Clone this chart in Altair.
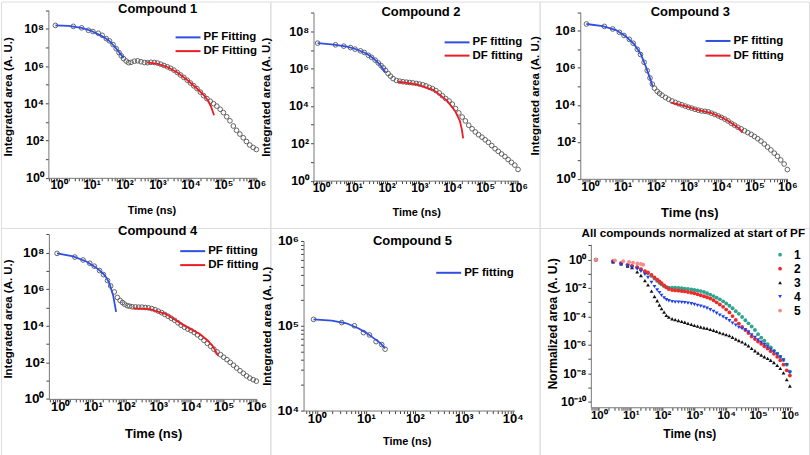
import json
import altair as alt
import pandas as pd

FONT = "Liberation Sans"
BLUE = "#2f4fe0"
RED = "#ec1c24"
CIRCLE = "#555555"

# ---------------- data ----------------
# measurement times (ns) of the markers (panels 1-4 and 6)
t_ns = [0.8, 2.8, 5, 8, 11, 16, 21, 28, 35, 45, 56, 68, 80, 93, 112, 132, 158,
        200, 250, 316, 400, 500, 630, 800,
        1000, 1260, 1580, 2000, 2500, 3160, 4000, 5000, 6300, 8000,
        1e4, 1.26e4, 1.58e4, 2e4, 2.5e4, 3.16e4, 4e4, 5e4, 6.3e4, 8e4,
        1e5, 1.26e5, 1.58e5, 2e5, 2.5e5, 3.16e5, 4e5, 5e5, 6.3e5, 8e5, 1e6]

# log10 of integrated area (A. U.)
c1_log_area = [8.18, 8.13, 8.05, 7.92, 7.85, 7.76, 7.65, 7.47, 7.35, 7.15, 6.93, 6.72, 6.55, 6.40, 6.27, 6.18, 6.20,
               6.26, 6.28, 6.23, 6.19, 6.18, 6.20, 6.19,
               6.16, 6.10, 6.03, 5.96, 5.88, 5.78, 5.65, 5.52, 5.39, 5.24,
               5.09, 4.94, 4.79, 4.60, 4.41, 4.25, 4.11, 3.98, 3.85, 3.68,
               3.50, 3.28, 3.06, 2.78, 2.55, 2.35, 2.15, 1.95, 1.76, 1.63,
               1.52]
c2_log_area = [7.37, 7.28, 7.21, 7.13, 7.05, 6.96, 6.87, 6.72, 6.61, 6.46, 6.31, 6.17, 6.04, 5.91, 5.74, 5.60, 5.47,
               5.37, 5.33, 5.30, 5.28, 5.26, 5.24, 5.21,
               5.18, 5.14, 5.08, 5.00, 4.93, 4.83, 4.70, 4.55, 4.40, 4.27,
               4.10, 3.86, 3.63, 3.41, 3.20, 2.97, 2.78, 2.61, 2.46, 2.33,
               2.19, 2.05, 1.88, 1.71, 1.57, 1.43, 1.29, 1.13, 0.98, 0.83,
               0.60]
c3_log_area = [8.37, 8.24, 8.10, 7.92, 7.75, 7.54, 7.33, 7.00, 6.72, 6.30, 5.85, 5.45, 5.12, 4.90, 4.73, 4.62, 4.52,
               4.40, 4.30, 4.21, 4.13, 4.06, 4.00, 3.93,
               3.87, 3.82, 3.76, 3.71, 3.67, 3.65, 3.62, 3.55, 3.48, 3.40,
               3.32, 3.23, 3.13, 3.00, 2.90, 2.79, 2.70, 2.60, 2.50, 2.40,
               2.29, 2.17, 2.04, 1.88, 1.72, 1.56, 1.39, 1.22, 1.02, 0.80,
               0.50]
c4_log_area = [7.96, 7.76, 7.60, 7.42, 7.26, 7.02, 6.80, 6.47, 6.18, 5.85, 5.55, 5.38, 5.27, 5.18, 5.10, 5.07, 5.04,
               5.03, 5.02, 5.02, 5.00, 4.98, 4.94, 4.88,
               4.80, 4.72, 4.62, 4.52, 4.41, 4.30, 4.16, 4.03, 3.92, 3.82,
               3.74, 3.63, 3.50, 3.36, 3.20, 3.04, 2.88, 2.72, 2.57, 2.42,
               2.28, 2.15, 2.00, 1.84, 1.69, 1.54, 1.40, 1.26, 1.14, 1.05,
               0.97]

# fits: times (ns) and log10 area
pf1_t = [0.8, 2, 5, 10, 20, 32, 50, 70, 93]
pf1_log = [8.18, 8.15, 8.05, 7.88, 7.62, 7.40, 7.05, 6.72, 6.43]
df1_t = [480, 1000, 2000, 4000, 8000, 16000, 25000, 35000, 43000, 52000]
df1_log = [6.20, 6.12, 5.95, 5.65, 5.25, 4.78, 4.45, 4.12, 3.78, 3.36]

pf2_t = [0.8, 2.5, 6.3, 12.6, 25, 40, 63, 93]
pf2_log = [7.37, 7.29, 7.18, 7.03, 6.80, 6.55, 6.22, 5.79]
df2_t = [224, 830, 2700, 6800, 12000, 17000, 19500, 21400]
df2_log = [5.30, 5.16, 4.85, 4.30, 3.75, 3.20, 2.75, 2.27]

pf3_t = [0.8, 2.5, 6.3, 12.6, 22.4, 35.5, 50, 66, 83]
pf3_log = [8.37, 8.26, 8.04, 7.70, 7.28, 6.75, 6.10, 5.50, 4.98]
df3_t = [295, 800, 2000, 5000, 10000, 16000, 25000, 35500, 43600]
df3_log = [4.12, 3.93, 3.72, 3.55, 3.33, 3.13, 2.90, 2.70, 2.50]

pf4_t = [0.8, 2.5, 6.3, 12.6, 20, 26.3, 33, 41.7, 51.3]
pf4_log = [7.96, 7.80, 7.52, 7.18, 6.88, 6.62, 6.25, 5.65, 4.76]
df4_t = [166, 540, 1740, 5750, 18600, 33000, 46800, 67600]
df4_log = [4.95, 4.91, 4.64, 4.05, 3.55, 3.18, 2.87, 2.36]

# compound 5
c5_t = [0.85, 3.2, 5.8, 8.9, 11.8, 16.1, 21, 24.6]
c5_area = [1.19e5, 1.09e5, 1.0e5, 8.3e4, 7.8e4, 6.5e4, 6.0e4, 5.3e4]
pf5_t = [0.85, 2, 4, 7.1, 10, 14.1, 20, 24.6]
pf5_area = [1.19e5, 1.15e5, 1.07e5, 9.3e4, 8.3e4, 7.2e4, 6.2e4, 5.4e4]

# panel 6: log10 of normalized area
n1_log = [0.0, -0.13, -0.26, -0.38, -0.46, -0.56, -0.70, -0.86, -0.97, -1.15, -1.34, -1.50, -1.63, -1.75, -1.87, -1.95, -1.98,
          -1.97, -1.98, -2.00, -2.02, -2.05, -2.07, -2.10,
          -2.14, -2.18, -2.22, -2.28, -2.37, -2.47, -2.57, -2.68, -2.80, -2.94,
          -3.09, -3.25, -3.43, -3.63, -3.82, -4.04, -4.27, -4.49, -4.71, -4.96,
          -5.25, -5.50, -5.72, -5.95, -6.18, -6.41, -6.63, -6.86, -7.08, -7.40,
          -7.90]
n2_log = [0.0, -0.12, -0.25, -0.37, -0.45, -0.54, -0.67, -0.82, -0.91, -1.08, -1.26, -1.41, -1.54, -1.66, -1.82, -1.96, -2.07,
          -2.14, -2.17, -2.19, -2.21, -2.24, -2.28, -2.33,
          -2.37, -2.44, -2.51, -2.58, -2.65, -2.74, -2.86, -3.01, -3.16, -3.33,
          -3.52, -3.72, -3.98, -4.25, -4.51, -4.74, -4.96, -5.17, -5.41, -5.60,
          -5.77, -5.93, -6.10, -6.27, -6.45, -6.64, -6.85, -7.09, -7.40, -7.80,
          -8.17]
n3_log = [0.0, -0.16, -0.30, -0.45, -0.57, -0.87, -1.12, -1.48, -1.78, -2.22, -2.60, -2.90, -3.20, -3.45, -3.70, -3.93, -4.05,
          -4.17, -4.23, -4.29, -4.35, -4.41, -4.49, -4.56,
          -4.63, -4.69, -4.75, -4.80, -4.85, -4.91, -4.98, -5.06, -5.14, -5.21,
          -5.28, -5.36, -5.47, -5.59, -5.70, -5.80, -5.93, -6.07, -6.25, -6.42,
          -6.58, -6.72, -6.84, -6.96, -7.09, -7.25, -7.45, -7.66, -7.98, -8.45,
          -8.90]
n4_log = [0.0, -0.18, -0.35, -0.45, -0.55, -0.65, -0.82, -1.04, -1.26, -1.60, -1.90, -2.14, -2.33, -2.52, -2.70, -2.83, -2.90,
          -2.96, -3.00, -3.00, -3.01, -3.03, -3.07, -3.11,
          -3.16, -3.22, -3.28, -3.35, -3.43, -3.53, -3.65, -3.78, -3.91, -4.04,
          -4.17, -4.31, -4.47, -4.62, -4.77, -4.86, -4.95, -5.10, -5.30, -5.48,
          -5.65, -5.81, -5.98, -6.15, -6.33, -6.50, -6.67, -6.85, -7.07, -7.40,
          -7.94]
n5_t = [0.8, 3.2, 5.8, 8.9, 11.8, 16.1, 21, 24.6]
n5_log = [0.0, -0.06, -0.11, -0.17, -0.21, -0.27, -0.31, -0.36]

compound_names = ["1", "2", "3", "4", "5"]
compound_colors = ["#2ca58d", "#ee2a2a", "#111111", "#1f3ef0", "#f48a8a"]
compound_shapes = ["circle", "circle", "triangle-up", "triangle-down", "circle"]

# ---------------- helpers ----------------
SUP = {"0": "\u2070", "1": "\u00b9", "2": "\u00b2", "3": "\u00b3", "4": "\u2074",
       "5": "\u2075", "6": "\u2076", "7": "\u2077", "8": "\u2078", "9": "\u2079", "-": "\u207b"}


def pow_label(k):
    return "10" + "".join(SUP[c] for c in str(k))


def log_ticks(k0, k1, lo, hi, minor=True):
    out = []
    for k in range(k0, k1 + 1):
        for m in (range(1, 10) if minor else [1]):
            v = float(f"{m}e{k}")
            if lo * 0.999 <= v <= hi * 1.001:
                out.append(v)
    return out


def label_expr(exps):
    vals = [float(f"1e{k}") for k in exps]
    labs = [pow_label(k) for k in exps]
    arr = json.dumps(vals)
    return (f"indexof({arr}, datum.value) >= 0 ? "
            f"{json.dumps(labs)}[indexof({arr}, datum.value)] : ''")


def build_panel(p, H):
    xs = alt.Scale(type="log", domain=p["xdom"], range=p["xrange"], nice=False)
    ys = alt.Scale(type="log", domain=p["ydom"], range=p["yrange"], nice=False)
    xa = alt.Axis(values=p["xticks"], labelExpr=label_expr(p["xlab"]),
                  title="Time (ns)", titleFont=FONT, titleFontSize=p["xtfs"], titleFontWeight="bold",
                  titleColor="black", titleX=p["xtitle"][0], titleY=p["xtitle"][1] - p["yrange"][0],
                  titleBaseline="middle", titleAlign="center",
                  offset=-(H - p["yrange"][0]),
                  labelFont=FONT, labelFontSize=p["lfs"], labelFontWeight="bold", labelColor="black",
                  labelPadding=-1, labelOverlap=False, labelFlush=False,
                  tickSize=3, tickColor="#444444", domainColor="#777777", grid=False)
    ya = alt.Axis(values=p["yticks"], labelExpr=label_expr(p["ylab"]),
                  title=p["ytitle_text"], titleFont=FONT, titleFontSize=p["ytfs"], titleFontWeight="bold",
                  titleColor="black", titleX=p["ytitle"][0] - p["xrange"][0], titleY=p["ytitle"][1],
                  titleBaseline="middle", titleAlign="center", titleAngle=270,
                  offset=-p["xrange"][0],
                  labelFont=FONT, labelFontSize=p["lfs"] + 0.5, labelFontWeight="bold", labelColor="black",
                  labelPadding=2, labelOverlap=False, labelFlush=False,
                  tickSize=3, tickColor="#444444", domainColor="#777777", grid=False)
    X = alt.X("t:Q", scale=xs, axis=xa)
    Y = alt.Y("v:Q", scale=ys, axis=ya)
    layers = [lay(X, Y) for lay in p["layers"]]
    ttl = alt.TitleParams(text=p["title"], font=FONT, fontSize=p["tfs"], fontWeight="bold",
                          color="black", anchor="middle", frame="group", baseline="middle",
                          dx=p["tpos"][0] - 135, offset=-(p["tpos"][1] + p["tfs"]))
    return alt.layer(*layers).properties(width=270, height=H, title=ttl)


def circles_layer(t, logv):
    df = pd.DataFrame({"t": t, "v": [10 ** x for x in logv]})

    def f(X, Y):
        return alt.Chart(df).mark_point(shape="circle", filled=False, size=22, strokeWidth=0.9,
                                        color=CIRCLE, opacity=1).encode(x=X, y=Y)
    return f


def fit_legend(pos):
    return alt.Legend(orient="none", legendX=pos[0] - 3, legendY=pos[1] - 13.3,
                      title=None, symbolType="stroke", symbolSize=625, symbolStrokeWidth=2,
                      labelFont=FONT, labelFontSize=11.5, labelFontWeight="bold", labelColor="black",
                      labelOffset=2, padding=0)


def pf_layer(name, t, v, pos):
    df = pd.DataFrame({"t": t, "v": v, "fit": name})

    def f(X, Y):
        return alt.Chart(df).mark_line(strokeWidth=1.8).encode(
            x=X, y=Y,
            color=alt.Color("fit:N", scale=alt.Scale(domain=[name], range=[BLUE]), legend=fit_legend(pos)))
    return f


def df_layer(name, t, v, pos):
    df = pd.DataFrame({"t": t, "v": v, "fit": name})

    def f(X, Y):
        return alt.Chart(df).mark_line(strokeWidth=1.8).encode(
            x=X, y=Y,
            stroke=alt.Stroke("fit:N", scale=alt.Scale(domain=[name], range=[RED]), legend=fit_legend(pos)))
    return f


def lin(logs):
    return [10 ** x for x in logs]


XT6 = log_ticks(-1, 6, 0.45, 1e6)
YT9 = log_ticks(0, 9, 1, 1e9, minor=False)
XLAB6 = list(range(0, 7))
YLAB8 = [0, 2, 4, 6, 8]
INT = "Integrated area (A. U.)"

p1 = dict(title="Compound 1", tfs=13, tpos=(157, 7.3),
          xdom=[0.49, 1e6], xrange=[47.5, 256], ydom=[1, 1e9], yrange=[176.7, 8.6],
          xticks=log_ticks(-1, 6, 0.49, 1e6), yticks=YT9, xlab=XLAB6, ylab=YLAB8,
          xtitle=(150.8, 209.3), ytitle=(7.5, 95), ytitle_text=INT, xtfs=11, ytfs=11.5, lfs=12,
          layers=[circles_layer(t_ns, c1_log_area),
                  pf_layer("PF Fitting", pf1_t, lin(pf1_log), (177, 35.7)),
                  df_layer("DF Fitting", df1_t, lin(df1_log), (177, 49.5))])
p2 = dict(title="Compound 2", tfs=13, tpos=(151, 10.7),
          xdom=[0.6, 1e6], xrange=[43.3, 248.3], ydom=[1, 1e9], yrange=[179.5, 11.2],
          xticks=log_ticks(-1, 6, 0.6, 1e6), yticks=YT9, xlab=XLAB6, ylab=YLAB8,
          xtitle=(146.2, 211), ytitle=(-4, 95.4), ytitle_text=INT, xtfs=11, ytfs=11.5, lfs=12,
          layers=[circles_layer(t_ns, c2_log_area),
                  pf_layer("PF fitting", pf2_t, lin(pf2_log), (176.7, 40.7)),
                  df_layer("DF fitting", df2_t, lin(df2_log), (176.7, 54))])
p3 = dict(title="Compound 3", tfs=13, tpos=(151, 10.7),
          xdom=[0.52, 1e6], xrange=[40.7, 248.3], ydom=[1, 1e9], yrange=[177.7, 10.8],
          xticks=log_ticks(-1, 6, 0.52, 1e6), yticks=YT9, xlab=XLAB6, ylab=YLAB8,
          xtitle=(150, 211.7), ytitle=(-4, 94), ytitle_text=INT, xtfs=13, ytfs=11.5, lfs=12.5,
          layers=[circles_layer(t_ns, c3_log_area),
                  pf_layer("PF fitting", pf3_t, lin(pf3_log), (168.3, 39.3)),
                  df_layer("DF fitting", df3_t, lin(df3_log), (168.3, 54))])
p4 = dict(title="Compound 4", tfs=13, tpos=(157, 4),
          xdom=[0.45, 1e6], xrange=[48, 256], ydom=[1, 1e9], yrange=[171.3, 6.4],
          xticks=XT6, yticks=YT9, xlab=XLAB6, ylab=YLAB8,
          xtitle=(152.5, 206.3), ytitle=(7.2, 90.7), ytitle_text=INT, xtfs=13, ytfs=11.5, lfs=13,
          layers=[circles_layer(t_ns, c4_log_area),
                  pf_layer("PF fitting", pf4_t, lin(pf4_log), (181.7, 23)),
                  df_layer("DF fitting", df4_t, lin(df4_log), (181.7, 37))])


def c5_circles(X, Y):
    df = pd.DataFrame({"t": c5_t, "v": c5_area})
    return alt.Chart(df).mark_point(shape="circle", filled=False, size=22, strokeWidth=0.9,
                                    color=CIRCLE, opacity=1).encode(x=X, y=Y)


p5 = dict(title="Compound 5", tfs=13, tpos=(142.5, 13),
          xdom=[0.53, 1.1e4], xrange=[33.3, 245], ydom=[1e4, 1e6], yrange=[183, 13],
          xticks=log_ticks(-1, 4, 0.53, 1.1e4), yticks=log_ticks(4, 6, 1e4, 1e6),
          xlab=[0, 1, 2, 3, 4], ylab=[4, 5, 6],
          xtitle=(136.7, 214), ytitle=(-3, 98), ytitle_text=INT, xtfs=11, ytfs=11.5, lfs=13,
          layers=[c5_circles,
                  pf_layer("PF fitting", pf5_t, pf5_area, (168.3, 44.7))])

rows6 = []
for name, tt, vals in [("1", t_ns, n1_log), ("2", t_ns, n2_log), ("3", t_ns, n3_log),
                       ("4", t_ns, n4_log), ("5", n5_t, n5_log)]:
    for a, b in zip(tt, vals):
        rows6.append({"t": a, "v": 10 ** b, "compound": name})
df6 = pd.DataFrame(rows6)

leg6 = dict(orient="none", legendX=235, legendY=20.8, title=None, symbolSize=14,
            labelFont=FONT, labelFontSize=12, labelFontWeight="bold", labelColor="black",
            labelOffset=8, rowPadding=2, padding=0)


def norm_points(X, Y):
    return alt.Chart(df6).mark_point(filled=True, size=15, opacity=1).encode(
        x=X, y=Y,
        color=alt.Color("compound:N", scale=alt.Scale(domain=compound_names, range=compound_colors),
                        legend=alt.Legend(**leg6)),
        shape=alt.Shape("compound:N", scale=alt.Scale(domain=compound_names, range=compound_shapes),
                        legend=alt.Legend(**leg6)))


p6 = dict(title="All compounds normalized at start of PF", tfs=11.7, tpos=(154, 4.7),
          xdom=[0.56, 1.17e6], xrange=[51.3, 253], ydom=[3.98e-11, 12], yrange=[179.7, 16.3],
          xticks=log_ticks(-1, 6, 0.56, 1.17e6), yticks=log_ticks(-10, 1, 3.98e-11, 12, minor=False),
          xlab=XLAB6, ylab=[0, -2, -4, -6, -8, -10],
          xtitle=(150, 206.3), ytitle=(13, 95.5), ytitle_text="Normalized area (A. U.)",
          xtfs=12, ytfs=12, lfs=11.5,
          layers=[norm_points])

H1, H2 = 227, 228
chart = alt.concat(build_panel(p1, H1), build_panel(p2, H1), build_panel(p3, H1),
                   build_panel(p4, H2), build_panel(p5, H2), build_panel(p6, H2),
                   columns=3, spacing=0, bounds="flush", padding=0).resolve_scale(
    x="independent", y="independent", color="independent", stroke="independent",
    shape="independent"
).configure_view(stroke="transparent", strokeWidth=0).configure(background="white")

chart.save("out.html", embed_options={"renderer": "svg", "actions": False})
